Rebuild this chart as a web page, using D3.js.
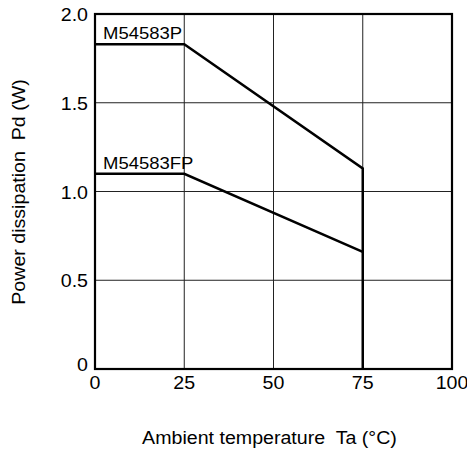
<!DOCTYPE html>
<meta charset="utf-8">
<style>
body { margin: 0; background: #fff; }
text { font-family: "Liberation Sans", Arial, sans-serif; fill: #000; white-space: pre; }
.grid line { stroke: #222; stroke-width: 1; }
</style>
<script src="https://cdn.jsdelivr.net/npm/d3@7"></script>
<body>
<script>
// derating curves
const tempP = [0, 25, 75, 75];
const powerP = [1.83, 1.83, 1.13, 0];
const tempFP = [0, 25, 75];
const powerFP = [1.10, 1.10, 0.66];
const xTicks = [0, 25, 50, 75, 100];
const yTicks = [0, 0.5, 1.0, 1.5, 2.0];
const yTickLabels = ['0', '0.5', '1.0', '1.5', '2.0'];
const seriesNames = ['M54583P', 'M54583FP'];

const margin = { top: 14, right: 15, bottom: 85, left: 95 };
const W = 467, H = 454;
const width = W - margin.left - margin.right;
const height = H - margin.top - margin.bottom;

// the original lettering is a bit wider than Liberation Sans
const stretch = 1.12;
function widen(sel) {
  sel.each(function () {
    const len = this.getComputedTextLength();
    d3.select(this)
      .attr('textLength', len * stretch)
      .attr('lengthAdjust', 'spacingAndGlyphs');
  });
}

const svg = d3.select('body').append('svg')
    .attr('width', W)
    .attr('height', H)
  .append('g')
    .attr('transform', `translate(${margin.left}, ${margin.top})`);

const x = d3.scaleLinear().domain([0, 100]).range([0, width]);
const y = d3.scaleLinear().domain([0, 2]).range([height, 0]);

// grid
const grid = svg.append('g').attr('class', 'grid');
grid.selectAll('.vx').data(xTicks.slice(1, -1)).enter().append('line')
    .attr('x1', d => x(d)).attr('x2', d => x(d))
    .attr('y1', 0).attr('y2', height);
grid.selectAll('.hy').data(yTicks.slice(1, -1)).enter().append('line')
    .attr('y1', d => y(d)).attr('y2', d => y(d))
    .attr('x1', 0).attr('x2', width);

// frame
svg.append('rect')
    .attr('width', width).attr('height', height)
    .attr('fill', 'none').attr('stroke', '#000').attr('stroke-width', 2.2);

// tick labels
svg.selectAll('.xt').data(xTicks).enter().append('text')
    .attr('x', d => x(d)).attr('y', height + 20)
    .attr('text-anchor', 'middle')
    .style('font-size', '17.5px')
    .text(d => d)
    .call(widen);
svg.selectAll('.yt').data(yTicks).enter().append('text')
    .attr('x', -7).attr('y', (d, i) => y(d) + (i === 0 ? 2 : 7))
    .attr('text-anchor', 'end')
    .style('font-size', '17.5px')
    .text((d, i) => yTickLabels[i])
    .call(widen);

// curves
const line = d3.line().x(d => x(d[0])).y(d => y(d[1]));
svg.append('path')
    .datum(d3.zip(tempP, powerP))
    .attr('d', line)
    .attr('fill', 'none').attr('stroke', '#000').attr('stroke-width', 2.5);
svg.append('path')
    .datum(d3.zip(tempFP, powerFP))
    .attr('d', line)
    .attr('fill', 'none').attr('stroke', '#000').attr('stroke-width', 2.5);

// curve labels
svg.append('text')
    .attr('x', 8).attr('y', y(powerP[0]) - 5)
    .style('font-size', '16.5px')
    .text(seriesNames[0])
    .call(widen);
svg.append('text')
    .attr('x', 8).attr('y', y(powerFP[0]) - 5)
    .style('font-size', '16.5px')
    .text(seriesNames[1])
    .call(widen);

// axis titles
svg.append('text')
    .attr('x', width / 2 - 4).attr('y', height + 75)
    .attr('text-anchor', 'middle')
    .style('font-size', '17.5px')
    .text('Ambient temperature  Ta (\u00B0C)')
    .call(widen);
svg.append('text')
    .attr('transform', `translate(${25 - margin.left}, ${192 - margin.top}) rotate(-90)`)
    .attr('text-anchor', 'middle')
    .style('font-size', '17.5px')
    .text('Power dissipation  Pd (W)')
    .call(widen);
</script>
</body>
</html>
